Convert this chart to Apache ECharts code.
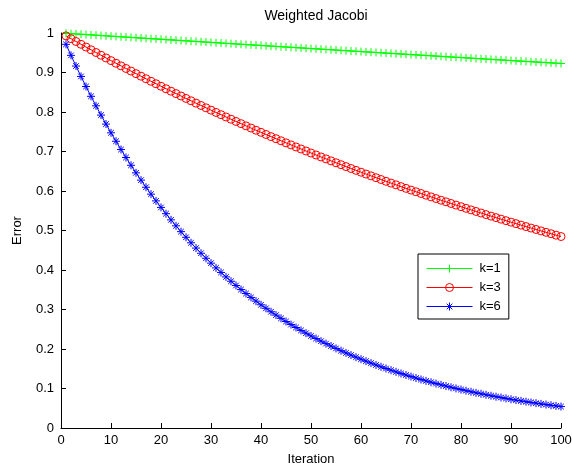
<!DOCTYPE html>
<html>
<head>
<meta charset="utf-8">
<script src="https://cdn.jsdelivr.net/npm/echarts@6/dist/echarts.min.js"></script>
<style>
  html, body { margin: 0; padding: 0; background: #fff; }
  #chart { width: 572px; height: 467px; }
</style>
</head>
<body>
<div id="chart"></div>
<script>
// Error of a single Fourier mode under weighted Jacobi, iterations 1..100
const xTicks = [0, 10, 20, 30, 40, 50, 60, 70, 80, 90, 100];
const yTicks = [0, 0.1, 0.2, 0.3, 0.4, 0.5, 0.6, 0.7, 0.8, 0.9, 1];
const seriesNames = ['k=1', 'k=3', 'k=6'];

const errK1 = [
  0.9992, 0.9984, 0.9976, 0.9968, 0.9960, 0.9952, 0.9944, 0.9936, 0.9928, 0.9920,
  0.9912, 0.9904, 0.9896, 0.9888, 0.9880, 0.9872, 0.9864, 0.9856, 0.9849, 0.9841,
  0.9833, 0.9825, 0.9817, 0.9809, 0.9801, 0.9793, 0.9786, 0.9778, 0.9770, 0.9762,
  0.9754, 0.9746, 0.9738, 0.9731, 0.9723, 0.9715, 0.9707, 0.9699, 0.9692, 0.9684,
  0.9676, 0.9668, 0.9661, 0.9653, 0.9645, 0.9637, 0.9630, 0.9622, 0.9614, 0.9606,
  0.9599, 0.9591, 0.9583, 0.9576, 0.9568, 0.9560, 0.9553, 0.9545, 0.9537, 0.9530,
  0.9522, 0.9514, 0.9507, 0.9499, 0.9491, 0.9484, 0.9476, 0.9469, 0.9461, 0.9453,
  0.9446, 0.9438, 0.9431, 0.9423, 0.9416, 0.9408, 0.9400, 0.9393, 0.9385, 0.9378,
  0.9370, 0.9363, 0.9355, 0.9348, 0.9340, 0.9333, 0.9325, 0.9318, 0.9310, 0.9303,
  0.9295, 0.9288, 0.9280, 0.9273, 0.9266, 0.9258, 0.9251, 0.9243, 0.9236, 0.9228
];

const errK3 = [
  0.9928, 0.9856, 0.9785, 0.9714, 0.9644, 0.9575, 0.9506, 0.9437, 0.9369, 0.9301,
  0.9234, 0.9168, 0.9102, 0.9036, 0.8971, 0.8906, 0.8842, 0.8778, 0.8715, 0.8652,
  0.8589, 0.8527, 0.8466, 0.8405, 0.8344, 0.8284, 0.8224, 0.8165, 0.8106, 0.8047,
  0.7989, 0.7932, 0.7874, 0.7817, 0.7761, 0.7705, 0.7649, 0.7594, 0.7539, 0.7485,
  0.7431, 0.7377, 0.7324, 0.7271, 0.7219, 0.7167, 0.7115, 0.7064, 0.7013, 0.6962,
  0.6912, 0.6862, 0.6813, 0.6763, 0.6715, 0.6666, 0.6618, 0.6570, 0.6523, 0.6476,
  0.6429, 0.6383, 0.6337, 0.6291, 0.6246, 0.6200, 0.6156, 0.6111, 0.6067, 0.6023,
  0.5980, 0.5937, 0.5894, 0.5851, 0.5809, 0.5767, 0.5726, 0.5684, 0.5643, 0.5603,
  0.5562, 0.5522, 0.5482, 0.5443, 0.5403, 0.5364, 0.5326, 0.5287, 0.5249, 0.5211,
  0.5174, 0.5136, 0.5099, 0.5062, 0.5026, 0.4990, 0.4954, 0.4918, 0.4882, 0.4847
];

const errK6 = [
  0.9713, 0.9434, 0.9163, 0.8900, 0.8645, 0.8397, 0.8156, 0.7921, 0.7694, 0.7473,
  0.7259, 0.7050, 0.6848, 0.6651, 0.6460, 0.6275, 0.6095, 0.5920, 0.5750, 0.5585,
  0.5425, 0.5269, 0.5118, 0.4971, 0.4828, 0.4689, 0.4555, 0.4424, 0.4297, 0.4174,
  0.4054, 0.3938, 0.3825, 0.3715, 0.3608, 0.3505, 0.3404, 0.3306, 0.3211, 0.3119,
  0.3030, 0.2943, 0.2858, 0.2776, 0.2696, 0.2619, 0.2544, 0.2471, 0.2400, 0.2331,
  0.2264, 0.2199, 0.2136, 0.2075, 0.2015, 0.1957, 0.1901, 0.1846, 0.1793, 0.1742,
  0.1692, 0.1643, 0.1596, 0.1550, 0.1506, 0.1463, 0.1421, 0.1380, 0.1340, 0.1302,
  0.1264, 0.1228, 0.1193, 0.1159, 0.1125, 0.1093, 0.1062, 0.1031, 0.1002, 0.0973,
  0.0945, 0.0918, 0.0891, 0.0866, 0.0841, 0.0817, 0.0793, 0.0771, 0.0749, 0.0727,
  0.0706, 0.0686, 0.0666, 0.0647, 0.0629, 0.0610, 0.0593, 0.0576, 0.0559, 0.0543
];

const seriesColors = ['#00ff00', '#ff0000', '#0000ff'];

// Marker outlines (stroked, not filled)
const PLUS = 'path://M5,0L5,10M0,5L10,5';
const CIRCLE = 'path://M10,5A5,5,0,1,1,0,5A5,5,0,1,1,10,5Z';
const STAR = 'path://M5,0L5,10M0,5L10,5M1.5,1.5L8.5,8.5M8.5,1.5L1.5,8.5';
const markers = [PLUS, CIRCLE, STAR];

const FONT = 'Liberation Sans, Arial, Helvetica, sans-serif';

function pairs(values) {
  return values.map((v, i) => [i + 1, v]);
}

function makeSeries(idx, values) {
  const color = seriesColors[idx];
  return {
    name: seriesNames[idx],
    type: 'line',
    data: pairs(values),
    symbol: markers[idx],
    symbolSize: 8,
    showSymbol: true,
    animation: false,
    lineStyle: { color: color, width: 1 },
    itemStyle: { color: 'rgba(0,0,0,0)', borderColor: color, borderWidth: 1 },
    emphasis: { disabled: true }
  };
}

const chart = echarts.init(document.getElementById('chart'), null, { renderer: 'canvas' });

chart.setOption({
  backgroundColor: '#ffffff',
  animation: false,
  title: {
    text: 'Weighted Jacobi',
    left: 311,
    top: 4,
    textAlign: 'center',
    textStyle: { fontFamily: FONT, fontSize: 14, fontWeight: 'normal', color: '#000' }
  },
  grid: { left: 61, right: 11, top: 33, bottom: 39, containLabel: false, outerBoundsMode: 'none' },
  legend: {
    orient: 'vertical',
    left: 418,
    top: 254,
    width: 93,
    padding: [8, 8, 6, 8],
    itemGap: 6,
    itemWidth: 46,
    itemHeight: 10,
    backgroundColor: '#fff',
    borderColor: '#000',
    borderWidth: 1,
    borderRadius: 0,
    selectedMode: false,
    lineStyle: { width: 1 },
    itemStyle: { borderWidth: 1 },
    textStyle: { fontFamily: FONT, fontSize: 13, color: '#000', padding: [0, 0, 0, 2] },
    data: seriesNames
  },
  xAxis: {
    type: 'value',
    min: xTicks[0],
    max: xTicks[xTicks.length - 1],
    interval: xTicks[1] - xTicks[0],
    name: 'Iteration',
    nameLocation: 'middle',
    nameGap: 25,
    nameTextStyle: { fontFamily: FONT, fontSize: 13, color: '#000' },
    axisLine: { lineStyle: { color: '#000', width: 1 } },
    axisTick: { inside: true, length: 5, lineStyle: { color: '#000' } },
    axisLabel: { fontFamily: FONT, fontSize: 13, color: '#000', margin: 6 },
    splitLine: { show: false }
  },
  yAxis: {
    type: 'value',
    min: yTicks[0],
    max: yTicks[yTicks.length - 1],
    interval: 0.1,
    name: 'Error',
    nameLocation: 'middle',
    nameGap: 37,
    nameRotate: 90,
    nameTextStyle: { fontFamily: FONT, fontSize: 13, color: '#000' },
    axisLine: { show: true, lineStyle: { color: '#000', width: 1 } },
    axisTick: { show: true, inside: true, length: 5, lineStyle: { color: '#000' } },
    axisLabel: { fontFamily: FONT, fontSize: 13, color: '#000', margin: 7 },
    splitLine: { show: false }
  },
  series: [
    makeSeries(0, errK1),
    makeSeries(1, errK3),
    makeSeries(2, errK6)
  ]
});
</script>
</body>
</html>
